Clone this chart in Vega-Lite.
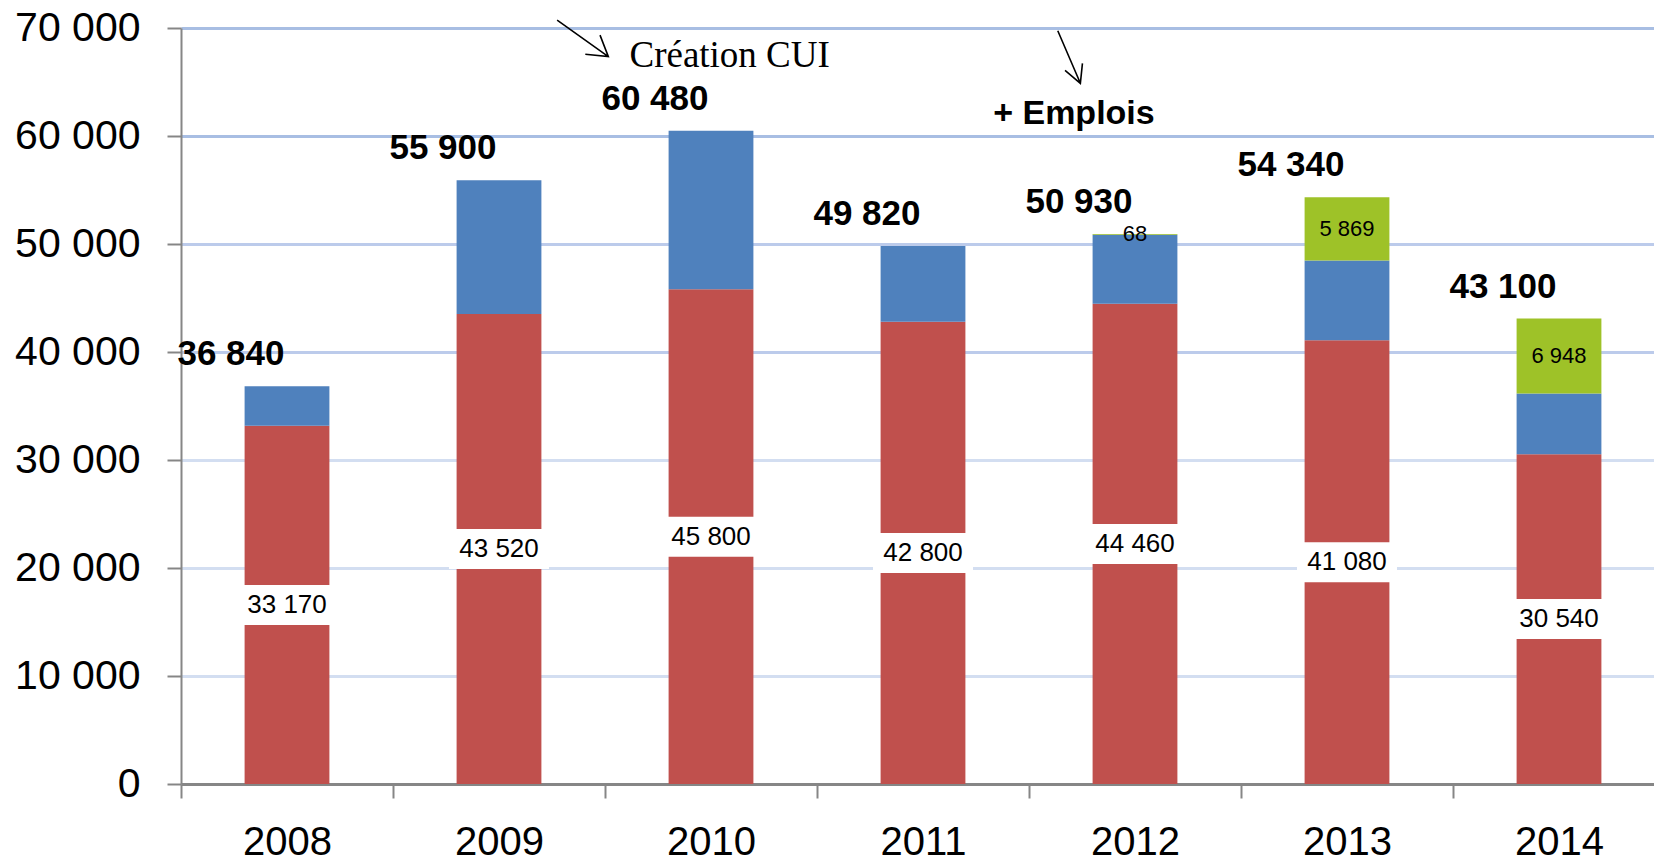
{
  "$schema": "https://vega.github.io/schema/vega-lite/v6.json",
  "width": 1473,
  "height": 756,
  "autosize": {"type": "none"},
  "padding": {"left": 181, "top": 28, "right": 0, "bottom": 78},
  "background": "white",
  "config": {
    "locale": {"number": {"decimal": ",", "thousands": " ", "grouping": [3], "currency": ["", " €"]}},
    "view": {"stroke": null},
    "font": "Liberation Sans"
  },
  "datasets": {
    "barres": [
      {"annee": "2008", "serie": "Série 1", "valeur": 33170},
      {"annee": "2008", "serie": "Série 2", "valeur": 3670},
      {"annee": "2008", "serie": "Série 3", "valeur": 0},
      {"annee": "2009", "serie": "Série 1", "valeur": 43520},
      {"annee": "2009", "serie": "Série 2", "valeur": 12380},
      {"annee": "2009", "serie": "Série 3", "valeur": 0},
      {"annee": "2010", "serie": "Série 1", "valeur": 45800},
      {"annee": "2010", "serie": "Série 2", "valeur": 14680},
      {"annee": "2010", "serie": "Série 3", "valeur": 0},
      {"annee": "2011", "serie": "Série 1", "valeur": 42800},
      {"annee": "2011", "serie": "Série 2", "valeur": 7020},
      {"annee": "2011", "serie": "Série 3", "valeur": 0},
      {"annee": "2012", "serie": "Série 1", "valeur": 44460},
      {"annee": "2012", "serie": "Série 2", "valeur": 6402},
      {"annee": "2012", "serie": "Série 3", "valeur": 68},
      {"annee": "2013", "serie": "Série 1", "valeur": 41080},
      {"annee": "2013", "serie": "Série 2", "valeur": 7391},
      {"annee": "2013", "serie": "Série 3", "valeur": 5869},
      {"annee": "2014", "serie": "Série 1", "valeur": 30540},
      {"annee": "2014", "serie": "Série 2", "valeur": 5612},
      {"annee": "2014", "serie": "Série 3", "valeur": 6948}
    ],
    "notes": [
      {"x": 2010.088, "y": 66420, "texte": "Création CUI", "style": "serif"},
      {"x": 2011.712, "y": 61111, "texte": "+ Emplois", "style": "sans"}
    ],
    "fleches": [
      {"x": 2009.395, "y": 69042, "nom": "a"},
      {"x": 2011.689, "y": 67315, "nom": "b"}
    ]
  },
  "resolve": {"scale": {"x": "independent"}},
  "layer": [
    {
      "encoding": {
        "x": {
          "field": "annee",
          "type": "ordinal",
          "title": null,
          "scale": {"range": [0, 1484], "paddingInner": 0, "paddingOuter": 0},
          "axis": {
            "orient": "bottom",
            "labelAngle": 0,
            "labelFontSize": 40,
            "labelColor": "black",
            "labelPadding": 24,
            "tickBand": "extent",
            "ticks": true,
            "tickSize": 14,
            "tickWidth": 2,
            "tickColor": "#868686",
            "domainColor": "#868686",
            "domainWidth": 3,
            "grid": false
          }
        }
      },
      "layer": [
        {
          "data": {"name": "barres"},
          "mark": {"type": "bar", "width": {"band": 0.4}},
          "encoding": {
            "y": {
              "field": "valeur",
              "type": "quantitative",
              "title": null,
              "stack": "zero",
              "scale": {"domain": [0, 70000], "nice": false},
              "axis": {
                "values": [0, 10000, 20000, 30000, 40000, 50000, 60000, 70000],
                "format": ",d",
                "labelFontSize": 41,
                "labelColor": "black",
                "labelPadding": 27,
                "tickSize": 14,
                "tickWidth": 2,
                "tickColor": "#868686",
                "domainColor": "#868686",
                "domainWidth": 2,
                "grid": true,
                "gridWidth": 3,
                "gridColor": {
                  "condition": [
                    {"test": "datum.value >= 60000", "value": "#a8bee3"},
                    {"test": "datum.value >= 40000", "value": "#bccbeb"}
                  ],
                  "value": "#d3def1"
                }
              }
            },
            "color": {
              "field": "serie",
              "type": "nominal",
              "scale": {"domain": ["Série 1", "Série 2", "Série 3"], "range": ["#C0504D", "#4F81BD", "#9EC228"]},
              "legend": null
            },
            "order": {"field": "serie", "type": "nominal", "sort": "ascending"}
          }
        },
        {
          "data": {"name": "barres"},
          "transform": [
            {"stack": "valeur", "groupby": ["annee"], "sort": [{"field": "serie", "order": "ascending"}], "as": ["v0", "v1"]},
            {"filter": "datum.serie === 'Série 1'"},
            {"fold": ["v0", "v1"], "as": ["bord", "pos"]},
            {"aggregate": [{"op": "mean", "field": "pos", "as": "milieu"}], "groupby": ["annee", "serie", "valeur"]}
          ],
          "layer": [
            {
              "mark": {"type": "point", "shape": "M-1.25,-0.5H1.25V0.5H-1.25Z", "filled": true, "color": "white", "opacity": 1, "size": 6400, "strokeWidth": 0},
              "encoding": {
                "y": {"field": "milieu", "type": "quantitative", "title": null}
              }
            },
            {
              "mark": {"type": "text", "fontSize": 26, "color": "black", "baseline": "middle", "align": "center"},
              "encoding": {
                "y": {"field": "milieu", "type": "quantitative", "title": null},
                "text": {"field": "valeur", "type": "quantitative", "format": ","}
              }
            }
          ]
        },
        {
          "data": {"name": "barres"},
          "transform": [
            {"stack": "valeur", "groupby": ["annee"], "sort": [{"field": "serie", "order": "ascending"}], "as": ["v0", "v1"]},
            {"filter": "datum.serie === 'Série 3' && datum.valeur > 0"},
            {"fold": ["v0", "v1"], "as": ["bord", "pos"]},
            {"aggregate": [{"op": "mean", "field": "pos", "as": "milieu"}], "groupby": ["annee", "serie", "valeur"]}
          ],
          "mark": {"type": "text", "fontSize": 22, "color": "black", "baseline": "middle", "align": "center"},
          "encoding": {
            "y": {"field": "milieu", "type": "quantitative", "title": null},
            "text": {"field": "valeur", "type": "quantitative", "format": ","}
          }
        },
        {
          "data": {"name": "barres"},
          "transform": [
            {"aggregate": [{"op": "sum", "field": "valeur", "as": "total"}], "groupby": ["annee"]}
          ],
          "mark": {"type": "text", "fontSize": 35, "fontWeight": "bold", "color": "black", "baseline": "middle", "align": "center", "dx": -56, "dy": -32},
          "encoding": {
            "y": {"field": "total", "type": "quantitative", "title": null},
            "text": {"field": "total", "type": "quantitative", "format": ","}
          }
        }
      ]
    },
    {
      "encoding": {
        "x": {
          "field": "x",
          "type": "quantitative",
          "title": null,
          "scale": {"domain": [2007.5, 2014.5], "range": [0, 1484], "nice": false, "zero": false},
          "axis": null
        }
      },
      "layer": [
        {
          "data": {"name": "notes"},
          "transform": [{"filter": "datum.style === 'serif'"}],
          "mark": {"type": "text", "font": "Liberation Serif", "fontSize": 37, "color": "black", "align": "center", "baseline": "alphabetic"},
          "encoding": {
            "y": {"field": "y", "type": "quantitative", "title": null},
            "text": {"field": "texte", "type": "nominal"}
          }
        },
        {
          "data": {"name": "notes"},
          "transform": [{"filter": "datum.style === 'sans'"}],
          "mark": {"type": "text", "font": "Liberation Sans", "fontSize": 34, "fontWeight": "bold", "color": "black", "align": "center", "baseline": "alphabetic"},
          "encoding": {
            "y": {"field": "y", "type": "quantitative", "title": null},
            "text": {"field": "texte", "type": "nominal"}
          }
        },
        {
          "data": {"name": "fleches"},
          "mark": {"type": "point", "filled": false, "color": "black", "strokeWidth": 1.6, "opacity": 1, "size": 4096},
          "encoding": {
            "y": {"field": "y", "type": "quantitative", "title": null},
            "shape": {
              "field": "nom",
              "type": "nominal",
              "scale": {
                "domain": ["a", "b"],
                "range": [
                  "M-0.8,-0.57L0.8,0.57M0.08,0.495L0.8,0.57L0.54,-0.1",
                  "M-0.353,-0.822L0.353,0.822M-0.126,0.42L0.353,0.822L0.418,0.2"
                ]
              },
              "legend": null
            }
          }
        }
      ]
    }
  ]
}
